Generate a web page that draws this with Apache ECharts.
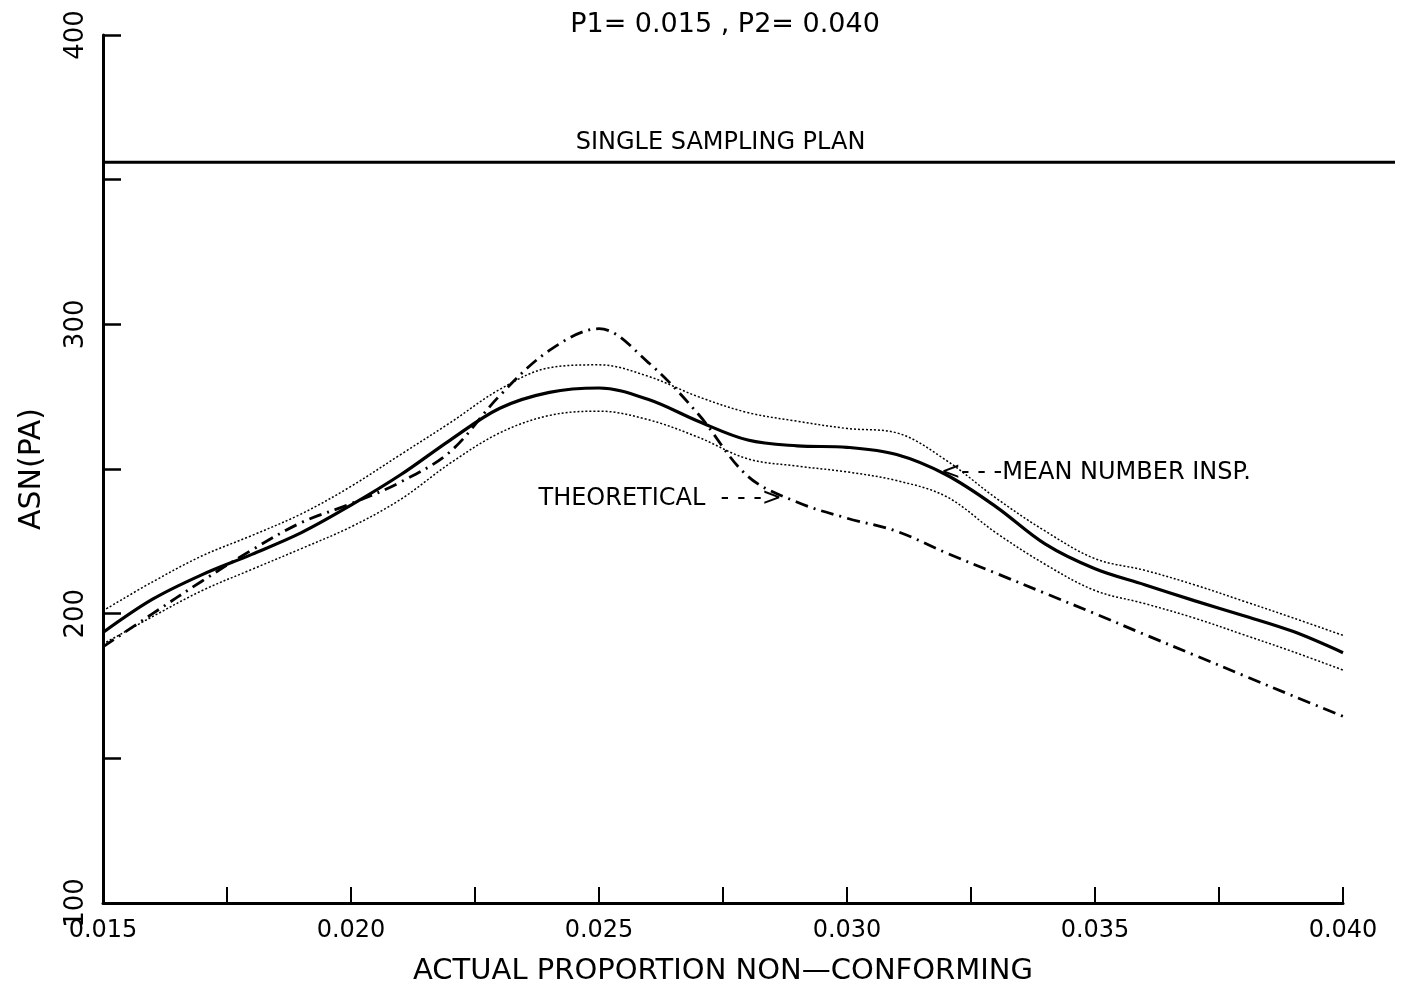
<!DOCTYPE html>
<html>
<head>
<meta charset="utf-8">
<script src="https://cdn.jsdelivr.net/npm/echarts@6/dist/echarts.min.js"></script>
<style>
html,body{margin:0;padding:0;background:#fff;}
#chart{width:1402px;height:1002px;}
</style>
</head>
<body>
<div id="chart"></div>
<script>
// ---- data ----
const xValues = [0.015,0.016,0.017,0.018,0.019,0.020,0.021,0.022,0.023,0.024,0.025,0.026,0.027,0.028,0.029,0.030,0.031,0.032,0.033,0.034,0.035,0.036,0.037,0.038,0.039,0.040];
const meanInsp    = [193.5,205,213.5,220.5,228,237.5,248,260,271,276.5,278,274,266.5,260,258,257.5,255,248,237,224,215.5,210,204.5,199.3,193.8,186.5];
const upperBand   = [201,211,220,227,234.5,244,255,266,277.5,285,286,282,275,269.5,266.5,264,262.5,253,240,228.5,219,215,210,204.3,198.5,192.5];
const lowerBand   = [189.5,199,208,215.3,222.5,230,239.5,252,262.5,268.5,270,267,261,253.5,251,249,246,240.5,228,217,208,203.5,198.5,192.7,186.8,180.5];
const theoretical = [188.5,200,211.3,222,231.5,238,245.5,256,275.4,291,298.5,286.7,269,247.5,238.5,233,228.5,221,214,207,200,192.8,185.7,178.6,171.5,164.5];
const singlePlanX = [0.015,0.04105];
const singlePlanY = [356,356];
const yTicks = [100,150,200,250,300,350,400];
const titleText = 'P1= 0.015 , P2= 0.040';
const xTitle = 'ACTUAL PROPORTION NON\u2014CONFORMING';
const yTitle = 'ASN(PA)';
const annotations = [
  {text:'SINGLE SAMPLING PLAN', x:0.02745, y:356, pos:'top'},
  {text:'THEORETICAL  - - ->', x:0.02885, y:239.6, pos:'left'},
  {text:'<- - -MEAN NUMBER INSP.', x:0.03173, y:248.6, pos:'right'}
];

const FONT = 'DejaVu Sans';
const pair = (xs, ys) => xs.map((x,i)=>[x, ys[i]]);

const chart = echarts.init(document.getElementById('chart'), null, {renderer:'canvas'});
chart.setOption({
  backgroundColor:'#ffffff',
  animation:false,
  title:{
    text:titleText, left:720, top:6, textAlign:'center',
    textStyle:{fontFamily:FONT, fontSize:27, fontWeight:'normal', color:'#000'}
  },
  grid:[
    {left:103, right:59, top:35, bottom:99, containLabel:false},
    {left:103, right:7, top:35, bottom:99, containLabel:false}
  ],
  xAxis:[{
    type:'value', min:0.015, max:0.040, interval:0.0025, gridIndex:0,
    name:xTitle, nameLocation:'middle', nameGap:54,
    nameTextStyle:{fontFamily:FONT, fontSize:29, color:'#000'},
    axisLine:{show:true, lineStyle:{color:'#000', width:3}},
    axisTick:{show:true, inside:true, length:16, lineStyle:{color:'#000', width:2}},
    splitLine:{show:false},
    axisLabel:{
      fontFamily:FONT, fontSize:24, color:'#000', margin:16,
      formatter:v => (Math.round(v*10000) % 50 === 0) ? v.toFixed(3) : ''
    }
  },{
    type:'value', min:singlePlanX[0], max:singlePlanX[1], gridIndex:1, show:false
  }],
  yAxis:[{
    type:'value', min:yTicks[0], max:yTicks[yTicks.length-1], interval:50, gridIndex:0,
    name:yTitle, nameLocation:'middle', nameGap:56, nameRotate:90,
    nameTextStyle:{fontFamily:FONT, fontSize:30, color:'#000'},
    axisLine:{show:true, lineStyle:{color:'#000', width:3}},
    axisTick:{show:true, inside:true, length:18, lineStyle:{color:'#000', width:2.5}},
    splitLine:{show:false},
    axisLabel:{
      fontFamily:FONT, fontSize:26, color:'#000', margin:14, rotate:90,
      formatter:v => (v % 100 === 0) ? String(v) : ''
    }
  },{
    type:'value', min:yTicks[0], max:yTicks[yTicks.length-1], gridIndex:1, show:false
  }],
  series:[
    {type:'line', name:'single', xAxisIndex:1, yAxisIndex:1, data:pair(singlePlanX, singlePlanY), showSymbol:false,
     lineStyle:{color:'#000', width:3}, z:3},
    {type:'line', name:'upper', data:pair(xValues, upperBand), smooth:0.35, showSymbol:false,
     lineStyle:{color:'#000', width:1.5, type:[2,2]}},
    {type:'line', name:'lower', data:pair(xValues, lowerBand), smooth:0.35, showSymbol:false,
     lineStyle:{color:'#000', width:1.5, type:[2,2]}},
    {type:'line', name:'mean', data:pair(xValues, meanInsp), smooth:0.35, showSymbol:false,
     lineStyle:{color:'#000', width:3.2}},
    {type:'line', name:'theoretical', data:pair(xValues, theoretical), smooth:0.35, showSymbol:false,
     lineStyle:{color:'#000', width:2.8, type:[13,6,2,6]}},
    {type:'scatter', name:'notes', symbolSize:0, z:5, silent:true,
     data:annotations.map(a=>({value:[a.x,a.y], label:{position:a.pos, color:'#000'}})),
     label:{show:true, fontFamily:FONT, fontSize:24, color:'#000', distance:8, opacity:1,
            formatter:p => annotations[p.dataIndex].text}}
  ]
});
</script>
</body>
</html>
